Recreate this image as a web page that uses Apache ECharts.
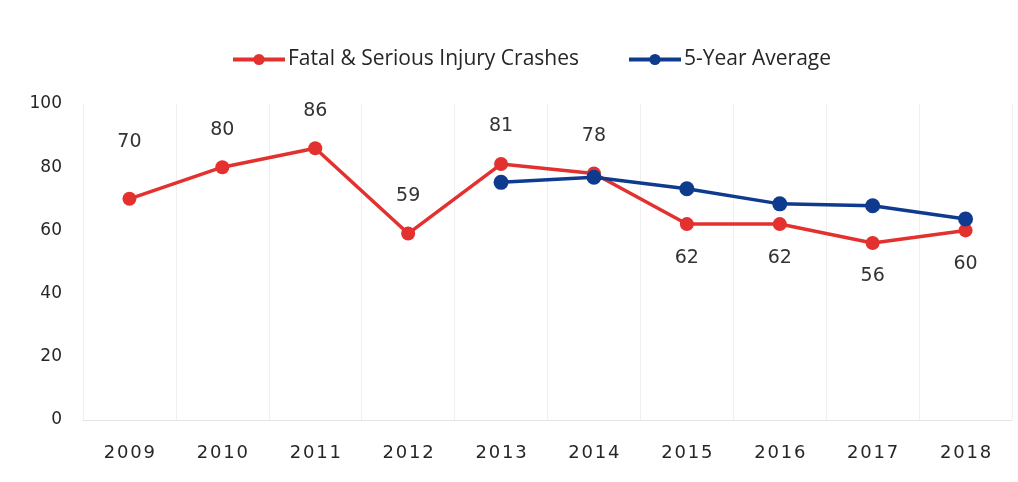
<!DOCTYPE html>
<html>
<head>
<meta charset="utf-8">
<script src="https://cdn.jsdelivr.net/npm/echarts@6/dist/echarts.min.js"></script>
<style>
  html, body { margin: 0; padding: 0; background: #ffffff; }
  #chart { width: 1018px; height: 482px; }
</style>
</head>
<body>
<div id="chart"></div>
<script>
// Crash counts per year and the rolling five-year average
const years = ['2009', '2010', '2011', '2012', '2013', '2014', '2015', '2016', '2017', '2018'];
const crashes = [70, 80, 86, 59, 81, 78, 62, 62, 56, 60];
const fiveYearAvg = [null, null, null, null, 75.2, 76.8, 73.2, 68.4, 67.8, 63.6];
const yTicks = { min: 0, max: 100, interval: 20 };

const seriesNames = ['Fatal & Serious Injury Crashes', '5-Year Average'];

// years before the dip are labelled above the point, later ones below
const labelBelowFrom = 6;

const chart = echarts.init(document.getElementById('chart'));

const crashData = crashes.map((v, i) => {
  const below = i >= labelBelowFrom;
  return {
    value: v,
    label: {
      position: below ? 'bottom' : 'top',
      distance: i === 0 ? 40 : (below ? 17 : 21)
    }
  };
});

chart.setOption({
  animation: false,
  backgroundColor: '#ffffff',
  legend: {
    top: 44,
    left: 226,
    itemWidth: 52,
    itemHeight: 14,
    itemGap: 48,
    lineStyle: { width: 4 },
    textStyle: { fontFamily: 'Open Sans', fontSize: 21, color: '#262626', padding: [0, 0, 0, -2] },
    data: seriesNames
  },
  grid: { left: 83, right: 6, top: 104, bottom: 62 },
  xAxis: {
    type: 'category',
    data: years,
    boundaryGap: true,
    axisLine: { show: true, lineStyle: { color: '#e4e4e4', width: 1 } },
    axisTick: { show: false },
    splitLine: { show: true, lineStyle: { color: '#efefef', width: 1 } },
    axisLabel: {
      margin: 24,
      fontFamily: 'DejaVu Sans',
      fontSize: 18,
      color: '#262626',
      formatter: v => v.split('').join('\u200A')
    }
  },
  yAxis: {
    type: 'value',
    min: yTicks.min,
    max: yTicks.max,
    interval: yTicks.interval,
    axisLine: { show: false },
    axisTick: { show: false },
    splitLine: { show: false },
    axisLabel: {
      margin: 21,
      fontFamily: 'DejaVu Sans',
      fontSize: 17,
      color: '#262626'
    }
  },
  series: [
    {
      name: seriesNames[0],
      type: 'line',
      data: crashData,
      symbol: 'circle',
      symbolSize: 14,
      itemStyle: { color: '#e2312f' },
      lineStyle: { color: '#e2312f', width: 3.5 },
      label: {
        show: true,
        fontFamily: 'DejaVu Sans',
        fontSize: 19,
        color: '#333333'
      },
      z: 2
    },
    {
      name: seriesNames[1],
      type: 'line',
      data: fiveYearAvg,
      symbol: 'circle',
      symbolSize: 15,
      itemStyle: { color: '#0f3b8f' },
      lineStyle: { color: '#0f3b8f', width: 3.5 },
      z: 3
    }
  ]
});
</script>
</body>
</html>
